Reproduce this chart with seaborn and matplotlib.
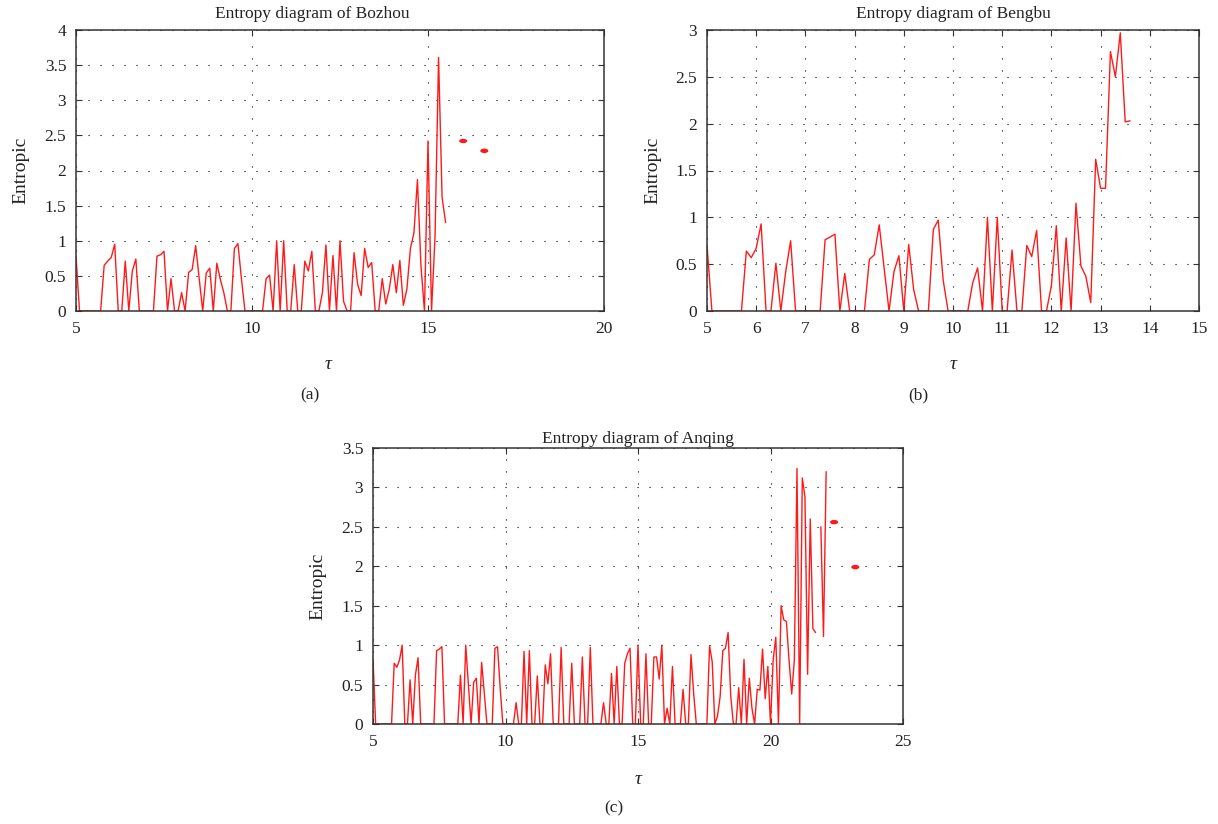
import numpy as np
import pandas as pd
import matplotlib
matplotlib.use("Agg")
import matplotlib.pyplot as plt
import seaborn as sns
from matplotlib.ticker import FuncFormatter, MultipleLocator

nan = np.nan

# ---------------- data ----------------
# (a) Bozhou: tau = 5.0 ... 15.5 step 0.1
bozhou_vals = [
    0.78,
    0, 0, 0, 0, 0, 0, 0,
    0.65, 0.71, 0.76, 0.95,
    0, 0, 0.71, 0, 0.57, 0.74,
    0, 0, 0, 0, 0,
    0.78, 0.80, 0.85, 0, 0.46, 0, 0, 0.26, 0,
    0.55, 0.59, 0.93, 0.46, 0, 0.54, 0.61, 0,
    0.68, 0.45, 0.26, 0, 0, 0.89, 0.96, 0.46, 0,
    0, 0, 0, 0, 0,
    0.46, 0.51, 0, 1.0, 0, 1.0, 0, 0,
    0.66, 0, 0, 0.71, 0.57, 0.85, 0, 0,
    0.26, 0.94, 0, 0.79, 0, 1.0, 0.14, 0, 0,
    0.83, 0.38, 0.22, 0.89, 0.62, 0.69, 0, 0,
    0.46, 0.10, 0.31, 0.66, 0.26, 0.72, 0.08, 0.31,
    0.89, 1.11, 1.87, 0.64, 0, 2.42, 0, 1.06, 3.61, 1.62, 1.26,
]
bozhou_tau_start = 5.0
bozhou_dot_tau = [16.0, 16.6]
bozhou_dot_val = [2.42, 2.28]

# (b) Bengbu: tau = 5.0 ... 13.6 step 0.1
bengbu_vals = [
    0.70,
    0, 0, 0, 0, 0, 0, 0,
    0.64, 0.57, 0.67, 0.93,
    0, 0, 0.51, 0, 0.42, 0.75,
    0, 0, 0, 0, 0, 0,
    0.76, 0.79, 0.82, 0, 0.40, 0, 0, 0, 0,
    0.55, 0.60, 0.92, 0.46, 0, 0.42, 0.59, 0,
    0.71, 0.23, 0, 0, 0, 0.87, 0.97, 0.33, 0,
    0, 0, 0, 0,
    0.30, 0.46, 0, 1.0, 0, 1.0, 0, 0,
    0.65, 0, 0, 0.70, 0.58, 0.86, 0, 0,
    0.27, 0.91, 0, 0.78, 0, 1.15, 0.48, 0.37, 0.09,
    1.62, 1.31, 1.31, 2.77, 2.50, 2.97, 2.02, 2.03,
]
bengbu_tau_start = 5.0

# (c) Anqing: tau = 5.0 ... 22.1 step 0.1
anqing_vals = [
    0.82, 0, 0, 0, 0, 0, 0, 0, 0.77, 0.72,
    0.81, 1.0, 0, 0, 0.56, 0, 0.62, 0.84, 0, 0,
    0, 0, 0, 0, 0.93, 0.95, 0.98, 0, 0, 0,
    0, 0, 0, 0.62, 0, 1.0, 0.5, 0, 0.53, 0.58,
    0, 0.78, 0.39, 0, 0, 0, 0.96, 0.98, 0.45, 0,
    0, 0, 0, 0, 0.27, 0, 0, 0.92, 0, 0.93,
    0, 0, 0.61, 0, 0, 0.75, 0.51, 0.89, 0, 0,
    0, 0.97, 0, 0, 0, 0.77, 0, 0, 0, 0.85,
    0, 0, 0.97, 0, 0, 0, 0, 0.27, 0, 0,
    0.64, 0, 0.73, 0, 0, 0.77, 0.89, 0.96, 0, 0,
    1.0, 0, 0, 0.89, 0, 0, 0.85, 0.85, 0.57, 1.0,
    0, 0.2, 0, 0.73, 0, 0, 0, 0.44, 0, 0,
    0.88, 0.39, 0, 0, 0, 0, 0, 0.99, 0.79, 0,
    0.1, 0.35, 0.93, 0.96, 1.16, 0.35, 0, 0, 0.46, 0,
    0.82, 0, 0.58, 0.2, 0, 0.44, 0.43, 0.95, 0.32, 0.73,
    0, 0.81, 1.1, 0, 1.5, 1.32, 1.3, 0.81, 0.38, 0.81,
    3.24, 0, 3.12, 2.88, 0.63, 2.6, 1.21, 1.16, nan, 2.5,
    1.11, 3.2,
]
anqing_tau_start = 5.0
anqing_dot_tau = [22.4, 23.2]
anqing_dot_val = [2.56, 1.99]

titles = ["Entropy diagram of Bozhou", "Entropy diagram of Bengbu", "Entropy diagram of Anqing"]
panel_tags = ["(a)", "(b)", "(c)"]

# ---------------- style ----------------
sns.set_theme(style="white")
plt.rcParams["font.family"] = ["Liberation Serif", "DejaVu Serif"]

fig = plt.figure(figsize=(12.18, 8.24), dpi=100)

W, H = 1218.0, 824.0
def axes_at(l, t, r, b):
    return fig.add_axes([l / W, 1 - b / H, (r - l) / W, (b - t) / H])

ax_a = axes_at(76, 30, 604, 311)
ax_b = axes_at(707, 30, 1199, 311)
ax_c = axes_at(373, 448, 903, 724)

fmt = FuncFormatter(lambda v, p: "%g" % v)
ellipse = [(np.cos(t), 0.55 * np.sin(t)) for t in np.linspace(0, 2 * np.pi, 40)]


def to_frame(start, vals):
    v = np.asarray(vals, dtype=float)
    tau = np.round(start + 0.1 * np.arange(len(v)), 1)
    seg = np.cumsum(np.isnan(v))
    df = pd.DataFrame({"tau": tau, "val": v, "seg": seg}).dropna()
    return df


def draw(ax, start, vals, xlim, xstep, ylim, title, title_x, title_pad,
         dots_tau=None, dots_val=None):
    df = to_frame(start, vals)
    sns.lineplot(data=df, x="tau", y="val", units="seg", estimator=None,
                 color="#ff1a1a", linewidth=1.0, ax=ax, legend=False, sort=False)
    if dots_tau is not None:
        sns.scatterplot(x=dots_tau, y=dots_val, ax=ax, marker=ellipse, s=34,
                        color="#ff1a1a", edgecolor="none", linewidth=0, legend=False)
    ax.set_xlim(*xlim)
    ax.set_ylim(*ylim)
    ax.xaxis.set_major_locator(MultipleLocator(xstep))
    ax.yaxis.set_major_locator(MultipleLocator(0.5))
    ax.xaxis.set_major_formatter(fmt)
    ax.yaxis.set_major_formatter(fmt)
    ax.grid(True, color="black", linestyle=(0, (1, 9.8)), linewidth=0.8)
    ax.set_axisbelow(True)
    ax.tick_params(direction="in", length=4, width=0.8, colors="#333333",
                   labelcolor="#222222", labelsize=12.5, pad=7,
                   bottom=True, left=True, top=True, right=True)
    for s in ax.spines.values():
        s.set_color("#333333")
        s.set_linewidth(1.1)
    ax.set_title(title, fontsize=12.5, color="#222222", pad=title_pad, x=title_x)
    ax.set_xlabel("τ", fontsize=14, fontstyle="italic", color="#222222")
    ax.set_ylabel("Entropic", fontsize=14, color="#222222")


draw(ax_a, bozhou_tau_start, bozhou_vals, (5, 20), 5, (0, 4), titles[0], 0.447, 9,
     bozhou_dot_tau, bozhou_dot_val)
ax_a.yaxis.set_label_coords(-0.089, 0.5)
ax_a.xaxis.set_label_coords(0.478, -0.16)

draw(ax_b, bengbu_tau_start, bengbu_vals, (5, 15), 1, (0, 3), titles[1], 0.5, 9)
ax_b.yaxis.set_label_coords(-0.092, 0.5)
ax_b.xaxis.set_label_coords(0.5, -0.16)

draw(ax_c, anqing_tau_start, anqing_vals, (5, 25), 5, (0, 3.5), titles[2], 0.5, 3.5,
     anqing_dot_tau, anqing_dot_val)
ax_c.yaxis.set_label_coords(-0.087, 0.5)
ax_c.xaxis.set_label_coords(0.5, -0.17)

fig.text(310 / W, 1 - 395 / H, panel_tags[0], ha="center", va="center", fontsize=12.5, color="#222222")
fig.text(918 / W, 1 - 395 / H, panel_tags[1], ha="center", va="center", fontsize=12.5, color="#222222")
fig.text(614 / W, 1 - 808 / H, panel_tags[2], ha="center", va="center", fontsize=12.5, color="#222222")

fig.savefig("out.png", dpi=100, facecolor="white")
